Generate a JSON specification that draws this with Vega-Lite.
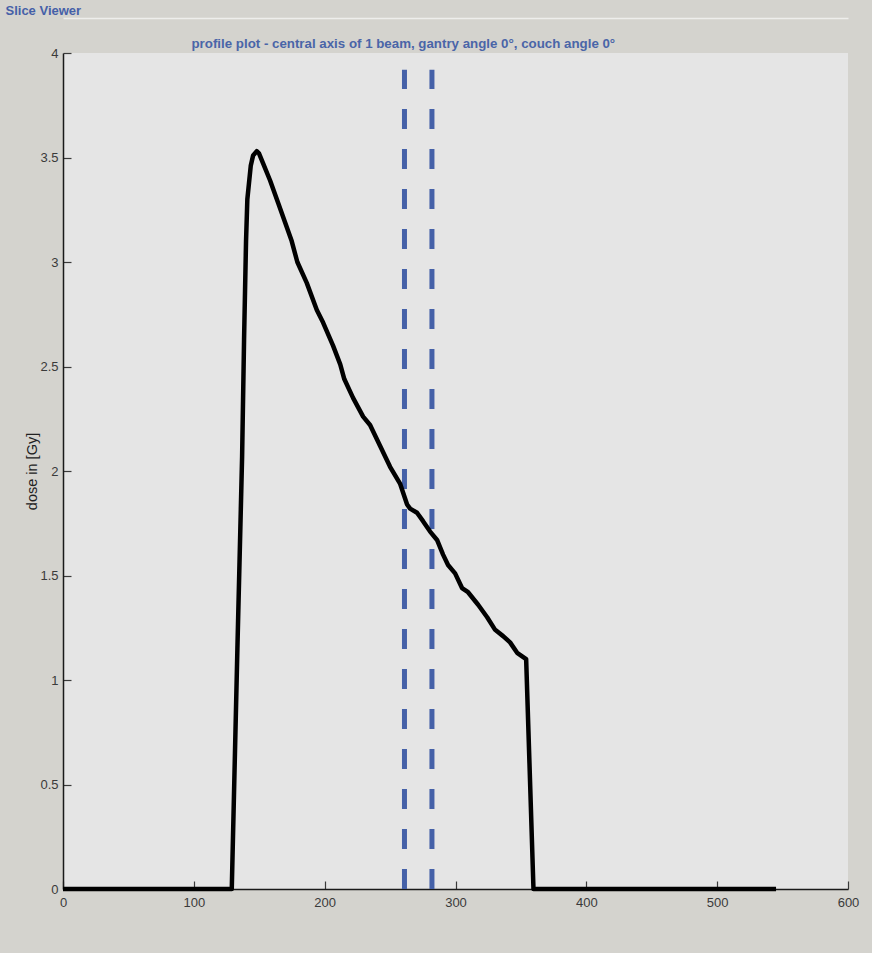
{
  "$schema": "https://vega.github.io/schema/vega-lite/v6.json",
  "width": 785,
  "height": 836,
  "autosize": {"type": "none"},
  "padding": {"left": 63, "top": 53, "right": 24, "bottom": 64},
  "background": "#d4d3ce",
  "datasets": {
    "profile": [
      {"depth": 0, "dose": 0},
      {"depth": 129, "dose": 0},
      {"depth": 133.3, "dose": 1.15},
      {"depth": 136.9, "dose": 2.07},
      {"depth": 138.4, "dose": 2.63},
      {"depth": 139.9, "dose": 3.1},
      {"depth": 140.9, "dose": 3.3},
      {"depth": 143.5, "dose": 3.46},
      {"depth": 145.3, "dose": 3.51},
      {"depth": 148.1, "dose": 3.53},
      {"depth": 149.8, "dose": 3.52},
      {"depth": 153.1, "dose": 3.47},
      {"depth": 158.3, "dose": 3.39},
      {"depth": 164.6, "dose": 3.28},
      {"depth": 169.7, "dose": 3.19},
      {"depth": 174.8, "dose": 3.1},
      {"depth": 179.1, "dose": 3.0},
      {"depth": 186.3, "dose": 2.9},
      {"depth": 194, "dose": 2.77},
      {"depth": 198.8, "dose": 2.71},
      {"depth": 206.4, "dose": 2.6},
      {"depth": 211.9, "dose": 2.51},
      {"depth": 215, "dose": 2.44},
      {"depth": 221.7, "dose": 2.35},
      {"depth": 229.4, "dose": 2.26},
      {"depth": 234.7, "dose": 2.22},
      {"depth": 242.4, "dose": 2.12},
      {"depth": 250, "dose": 2.02},
      {"depth": 257.6, "dose": 1.94},
      {"depth": 263, "dose": 1.84},
      {"depth": 265.3, "dose": 1.82},
      {"depth": 270.6, "dose": 1.8},
      {"depth": 275.2, "dose": 1.76},
      {"depth": 280.6, "dose": 1.71},
      {"depth": 285.9, "dose": 1.67},
      {"depth": 290.5, "dose": 1.6},
      {"depth": 294.3, "dose": 1.55},
      {"depth": 299.7, "dose": 1.51},
      {"depth": 305, "dose": 1.44},
      {"depth": 309.6, "dose": 1.42},
      {"depth": 317.3, "dose": 1.36},
      {"depth": 324.2, "dose": 1.3},
      {"depth": 330.3, "dose": 1.24},
      {"depth": 336.4, "dose": 1.21},
      {"depth": 341.7, "dose": 1.18},
      {"depth": 347.1, "dose": 1.13},
      {"depth": 354, "dose": 1.1},
      {"depth": 359.6, "dose": 0},
      {"depth": 545, "dose": 0}
    ],
    "markers": [
      {"pos": 261, "lo": 0, "hi": 3.92},
      {"pos": 282, "lo": 0, "hi": 3.92}
    ]
  },
  "resolve": {"axis": {"x": "independent", "y": "independent"}},
  "layer": [
    {
      "data": {"name": "markers"},
      "mark": {"type": "rule", "color": "#4561a8", "strokeWidth": 5, "strokeDash": [20, 20]},
      "encoding": {
        "x": {
          "field": "pos",
          "type": "quantitative",
          "scale": {"domain": [0, 600], "nice": false},
          "axis": {
            "orient": "top",
            "offset": 35,
            "labels": false,
            "ticks": false,
            "grid": false,
            "domainColor": "#eeeeec",
            "domainWidth": 1.5,
            "title": "Slice Viewer",
            "titleX": -58,
            "titleY": -4,
            "titleAlign": "left",
            "titleAnchor": "start",
            "titleBaseline": "alphabetic",
            "titleAngle": 0,
            "titleFontSize": 13,
            "titleFontWeight": "bold",
            "titleColor": "#4560a8"
          }
        },
        "y": {
          "field": "lo",
          "type": "quantitative",
          "scale": {"domain": [0, 4], "nice": false},
          "axis": {
            "orient": "right",
            "domain": false,
            "labels": false,
            "ticks": false,
            "grid": false,
            "title": "profile plot - central axis of 1 beam, gantry angle 0°, couch angle 0°",
            "titleX": -657,
            "titleY": -6,
            "titleAngle": 0,
            "titleAlign": "left",
            "titleAnchor": "start",
            "titleBaseline": "alphabetic",
            "titleFontSize": 13.3,
            "titleFontWeight": "bold",
            "titleColor": "#4a65a8"
          }
        },
        "y2": {"field": "hi"}
      }
    },
    {
      "data": {"name": "profile"},
      "mark": {"type": "line", "color": "#000000", "strokeWidth": 4.5, "strokeJoin": "round"},
      "encoding": {
        "x": {
          "field": "depth",
          "type": "quantitative",
          "scale": {"domain": [0, 600], "nice": false},
          "axis": {
            "orient": "bottom",
            "values": [0, 100, 200, 300, 400, 500, 600],
            "format": "d",
            "tickSize": -8,
            "labelPadding": 15,
            "labelFlush": false,
            "grid": false,
            "title": null
          }
        },
        "y": {
          "field": "dose",
          "type": "quantitative",
          "scale": {"domain": [0, 4], "nice": false},
          "axis": {
            "orient": "left",
            "values": [0, 0.5, 1, 1.5, 2, 2.5, 3, 3.5, 4],
            "format": "~g",
            "tickSize": -8,
            "labelPadding": 13,
            "grid": false,
            "title": "dose in [Gy]",
            "titleX": -31,
            "titleY": 418,
            "titleAngle": -90,
            "titleAlign": "center",
            "titleBaseline": "middle",
            "titleFontWeight": "normal",
            "titleFontSize": 14.5,
            "titleColor": "#222222"
          }
        }
      }
    }
  ],
  "config": {
    "view": {"fill": "#e5e5e5", "stroke": null},
    "axis": {
      "domainColor": "#1a1a1a",
      "domainWidth": 1.5,
      "tickColor": "#3a3a3a",
      "tickWidth": 1.2,
      "labelFont": "Liberation Sans",
      "labelFontSize": 13,
      "labelColor": "#3a3a3a",
      "titleFont": "Liberation Sans"
    }
  }
}
